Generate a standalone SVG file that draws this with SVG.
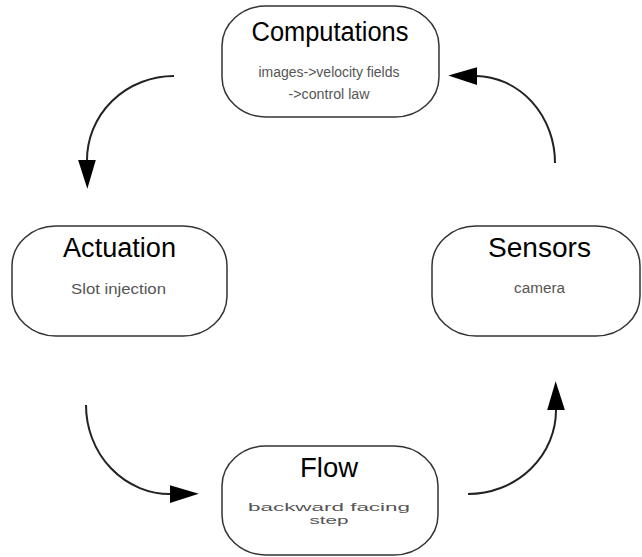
<svg xmlns="http://www.w3.org/2000/svg" width="642" height="557" viewBox="0 0 642 557">
<style>
.box{fill:#fff;stroke:#333;stroke-width:1.5}
.title{font-family:"Liberation Sans",Arial,sans-serif;font-size:27px;fill:#000;text-anchor:middle}
.sub{font-family:"Liberation Sans",Arial,sans-serif;font-size:14px;fill:#555;text-anchor:middle}
.con{fill:none;stroke:#222;stroke-width:2}
</style>
<defs>
<marker id="ah" markerUnits="userSpaceOnUse" markerWidth="30" markerHeight="20" viewBox="0 -9 27 18" refX="1" refY="0" orient="auto">
<path d="M0,-8 L26,0 L0,8 z" fill="#000"/>
</marker>
</defs>
<g id="connectors">
<path class="con" d="M174,76 A87,84 0 0 0 87,161" marker-end="url(#ah)"/>
<path class="con" d="M555,163 A80,87 0 0 0 476,76" marker-end="url(#ah)"/>
<path class="con" d="M86,405 A84,89 0 0 0 171,494" marker-end="url(#ah)"/>
<path class="con" d="M468,494 A88,84 0 0 0 556,409" marker-end="url(#ah)"/>
</g>
<g id="computations">
<rect class="box" x="222" y="6" width="217" height="111" rx="44" ry="40"/>
<text class="title" x="330" y="41" textLength="157" lengthAdjust="spacingAndGlyphs">Computations</text>
<text class="sub" x="329" y="77" textLength="141" lengthAdjust="spacingAndGlyphs">images-&gt;velocity fields</text>
<text class="sub" x="329" y="99" textLength="81" lengthAdjust="spacingAndGlyphs">-&gt;control law</text>
</g>
<g id="actuation">
<rect class="box" x="12" y="226" width="215" height="110" rx="44" ry="40"/>
<text class="title" x="119.5" y="257" textLength="113" lengthAdjust="spacingAndGlyphs">Actuation</text>
<text class="sub" x="118.5" y="294" textLength="95" lengthAdjust="spacingAndGlyphs">Slot injection</text>
</g>
<g id="sensors">
<rect class="box" x="432" y="226" width="208" height="110" rx="44" ry="40"/>
<text class="title" x="539.5" y="257" textLength="103" lengthAdjust="spacingAndGlyphs">Sensors</text>
<text class="sub" x="539.5" y="293" textLength="51" lengthAdjust="spacingAndGlyphs">camera</text>
</g>
<g id="flow">
<rect class="box" x="222" y="446" width="216" height="109" rx="44" ry="40"/>
<text class="title" x="329" y="477" textLength="58" lengthAdjust="spacingAndGlyphs">Flow</text>
<text class="sub" x="329" y="511" style="font-size:10.5px" textLength="162" lengthAdjust="spacingAndGlyphs">backward facing</text>
<text class="sub" x="329" y="524" style="font-size:10.5px" textLength="39" lengthAdjust="spacingAndGlyphs">step</text>
</g>
</svg>
